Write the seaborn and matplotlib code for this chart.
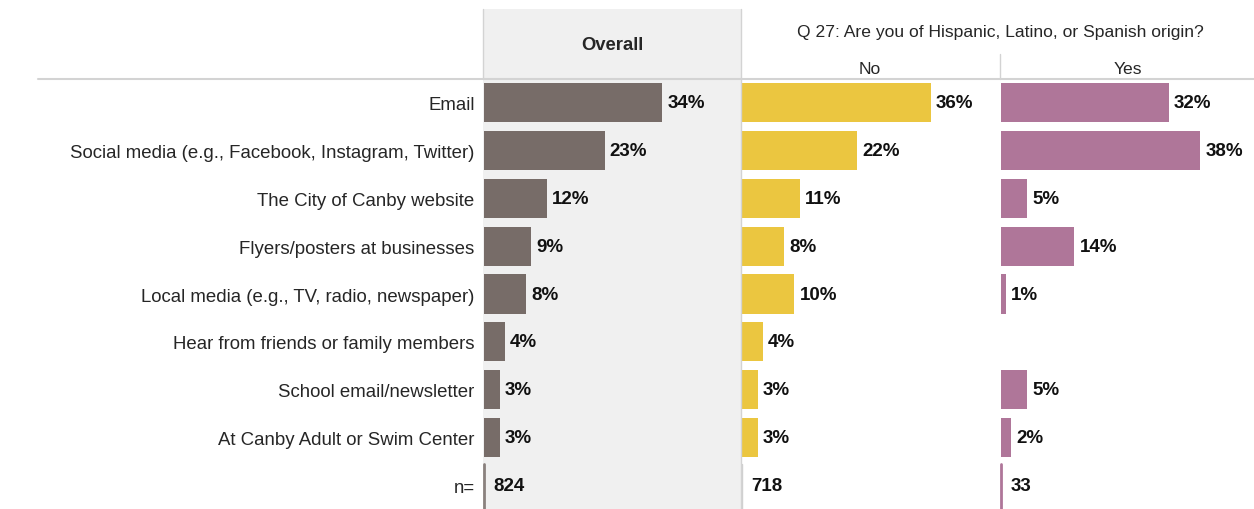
import numpy as np
import pandas as pd
import matplotlib
matplotlib.use("Agg")
import matplotlib.pyplot as plt
from matplotlib.lines import Line2D
from matplotlib.patches import Rectangle
import seaborn as sns

# data
items = ["Email",
         "Social media (e.g., Facebook, Instagram, Twitter)",
         "The City of Canby website",
         "Flyers/posters at businesses",
         "Local media (e.g., TV, radio, newspaper)",
         "Hear from friends or family members",
         "School email/newsletter",
         "At Canby Adult or Swim Center"]
overall = [34, 23, 12, 9, 8, 4, 3, 3]
no_vals = [36, 22, 11, 8, 10, 4, 3, 3]
yes_vals = [32, 38, 5, 14, 1, np.nan, 5, 2]
groups = ["Overall", "No", "Yes"]
n_counts = [824, 718, 33]
colors = ["#776C68", "#EBC640", "#AF7699"]
question = "Q 27: Are you of Hispanic, Latino, or Spanish origin?"

sns.set_style("white")
plt.rcParams['font.family'] = ['Liberation Sans', 'DejaVu Sans']

rows = []
for g, vals in zip(groups, [overall, no_vals, yes_vals]):
    for it, v in zip(items, vals):
        rows.append({"group": g, "item": it, "pct": v})
df = pd.DataFrame(rows)
order = items + ["n="]

W, H = 1254, 510
fig = plt.figure(figsize=(W / 100, H / 100), dpi=100)


def fx(px):
    return px / W


def fy(py):
    return 1 - py / H


top, bottom = 80, 510
panels = [(483, 741), (741, 1000), (1000, 1254)]
px_per_pct = 5.25

# grey header box for Overall
fig.patches.append(Rectangle((fx(483), fy(80)), fx(741) - fx(483), fy(10) - fy(80),
                             transform=fig.transFigure, facecolor="#F0F0F0",
                             edgecolor="none", zorder=0))

for k, (g, (x0, x1)) in enumerate(zip(groups, panels)):
    ax = fig.add_axes([fx(x0), fy(bottom), fx(x1) - fx(x0), fy(top) - fy(bottom)])
    sub = df[df["group"] == g].dropna()
    sns.barplot(data=sub, x="pct", y="item", order=order, color=colors[k],
                width=0.82, saturation=1, linewidth=0, ax=ax)
    ax.set_xlim(-0.15, (x1 - x0) / px_per_pct - 0.15)
    ax.set_ylim(len(order) - 0.5, -0.5)
    ax.set_xlabel("")
    ax.set_ylabel("")
    ax.set_xticks([])
    for s in ax.spines.values():
        s.set_visible(False)
    ax.set_facecolor("#F0F0F0" if k == 0 else "none")
    if k == 0:
        ax.tick_params(axis="y", length=0, pad=6, labelsize=13.4, labelcolor="#262626")
    else:
        ax.set_yticks([])
    for i, it in enumerate(items):
        v = sub.loc[sub["item"] == it, "pct"]
        if len(v):
            ax.text(v.iloc[0] + 1.0, i, f"{int(v.iloc[0])}%", va="center", ha="left",
                    fontsize=13.5, fontweight="bold", color="#111111")
    # n= row
    line_col = "#8A817E" if k == 0 else ("#D0D0D0" if k == 1 else colors[2])
    ax.plot([0, 0], [len(order) - 1.45, len(order) - 0.5], color=line_col, lw=2 if k != 1 else 1)
    ax.text(1.8, len(order) - 1, str(n_counts[k]), va="center", ha="left",
            fontsize=13.5, fontweight="bold", color="#111111")

# header texts
fig.text(fx(612), fy(46), "Overall", ha="center", va="center", fontsize=13.3,
         fontweight="bold", color="#262626")
fig.text(fx(1000), fy(33), question, ha="center", va="center", fontsize=12.6, color="#262626")
fig.text(fx(870), fy(69), "No", ha="center", va="center", fontsize=12.6, color="#262626")
fig.text(fx(1128), fy(69), "Yes", ha="center", va="center", fontsize=12.6, color="#262626")

# grid lines
lc = "#D3D3D3"
fig.add_artist(Line2D([fx(38), fx(1254)], [fy(80), fy(80)], color=lc, lw=1.5))
fig.add_artist(Line2D([fx(483), fx(483)], [fy(10), fy(80)], color=lc, lw=1))
fig.add_artist(Line2D([fx(741), fx(741)], [fy(10), fy(510)], color=lc, lw=1))
fig.add_artist(Line2D([fx(1000), fx(1000)], [fy(55), fy(80)], color=lc, lw=1))

fig.savefig("out.png", dpi=100)
